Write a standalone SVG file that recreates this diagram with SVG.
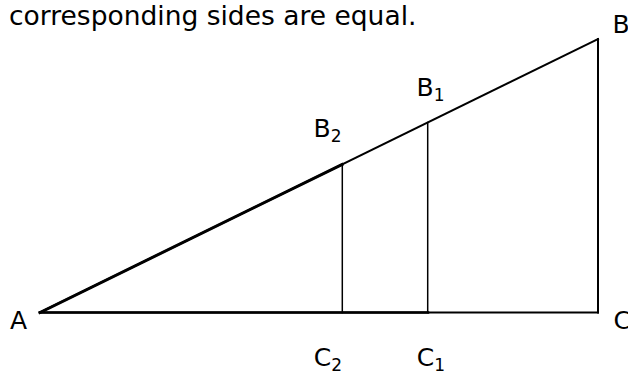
<svg xmlns="http://www.w3.org/2000/svg" width="628" height="376" viewBox="0 0 628 376">
<style>
text{font-family:"DejaVu Sans","Verdana",sans-serif;fill:#000}
.t{font-size:26.5px}
.l{font-size:25px}
.s{font-size:17px}
line{stroke:#000;stroke-linecap:square}
</style>
<rect width="628" height="376" fill="#fff"/>
<text class="t" x="9" y="25">corresponding sides are equal.</text>
<g id="connectors">
<line x1="40" y1="312.5" x2="598" y2="39" stroke-width="2"/>
<line x1="40" y1="312.5" x2="342" y2="164.5" stroke-width="3"/>
<line x1="40" y1="312.5" x2="598" y2="312.5" stroke-width="2"/>
<line x1="40" y1="312.5" x2="428" y2="312.5" stroke-width="2.5"/>
<line x1="598" y1="39" x2="598" y2="312.5" stroke-width="2"/>
<line x1="342.3" y1="164.5" x2="342.3" y2="312.5" stroke-width="1.5"/>
<line x1="427.7" y1="122.5" x2="427.7" y2="312.5" stroke-width="1.5"/>
</g>
<g id="A"><text class="l" x="10" y="329">A</text></g>
<g id="B"><text class="l" x="612.5" y="33">B</text></g>
<g id="C"><text class="l" x="613.5" y="329">C</text></g>
<g id="B1"><text class="l" x="416.5" y="96">B<tspan class="s" dy="5">1</tspan></text></g>
<g id="B2"><text class="l" x="313.5" y="137">B<tspan class="s" dy="5">2</tspan></text></g>
<g id="C1"><text class="l" x="416.7" y="366">C<tspan class="s" dy="5">1</tspan></text></g>
<g id="C2"><text class="l" x="313.7" y="366">C<tspan class="s" dy="5">2</tspan></text></g>
</svg>
